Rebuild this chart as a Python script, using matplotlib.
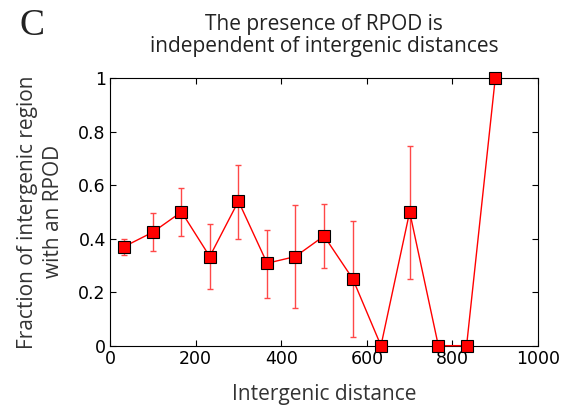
import matplotlib
matplotlib.use("Agg")
import matplotlib.pyplot as plt

# -------------------------
# Data
# -------------------------
distance = [33, 100, 167, 233, 300, 367, 433, 500, 567, 633, 700, 767, 833, 900]
fraction = [0.37, 0.424, 0.50, 0.333, 0.54, 0.308, 0.333, 0.41, 0.25, 0.0, 0.50, 0.0, 0.0, 1.0]
err_low = [0.339, 0.353, 0.411, 0.211, 0.399, 0.178, 0.140, 0.292, 0.033, 0.0, 0.248, 0.0, 0.0, 1.0]
err_high = [0.399, 0.497, 0.589, 0.454, 0.677, 0.434, 0.524, 0.531, 0.465, 0.0, 0.748, 0.0, 0.0, 1.0]

x_ticks = [0, 200, 400, 600, 800, 1000]
y_ticks = [0, 0.2, 0.4, 0.6, 0.8, 1]
y_tick_labels = ["0", "0.2", "0.4", "0.6", "0.8", "1"]

label_font = "Open Sans"

fig = plt.figure(figsize=(5.7, 4.11), dpi=100)
ax = fig.add_axes([0.193, 0.159, 0.751, 0.651])

yerr = [[f - lo for f, lo in zip(fraction, err_low)],
        [hi - f for f, hi in zip(fraction, err_high)]]
ax.errorbar(distance, fraction, yerr=yerr, fmt="none", ecolor="#ff4848",
            elinewidth=1.0, capsize=2.5, capthick=1.0, zorder=2)
ax.plot(distance, fraction, color="red", linewidth=1.0, marker="s",
        markersize=8.8, markerfacecolor="red", markeredgecolor="black",
        markeredgewidth=0.8, zorder=3, clip_on=False)

ax.set_xlim(0, 1000)
ax.set_ylim(0, 1)
ax.set_xticks(x_ticks)
ax.set_yticks(y_ticks)
ax.set_yticklabels(y_tick_labels)
ax.tick_params(direction="in", top=True, right=True, length=4, width=0.8,
               labelsize=12.5, pad=3)
for s in ax.spines.values():
    s.set_linewidth(0.8)

ax.set_xlabel("Intergenic distance", fontsize=15, family=label_font,
              color="#333333", labelpad=12)
ax.set_ylabel("Fraction of intergenic region\nwith an RPOD", fontsize=15,
              family=label_font, color="#333333", labelpad=10, linespacing=1.35)
ax.set_title("The presence of RPOD is\nindependent of intergenic distances",
             fontsize=15, family=label_font, color="#222222", pad=19,
             linespacing=1.05)

fig.text(0.035, 0.915, "C", fontsize=27, family="Liberation Serif",
         color="#222222", va="baseline", ha="left")

fig.savefig("out.png", dpi=100)
